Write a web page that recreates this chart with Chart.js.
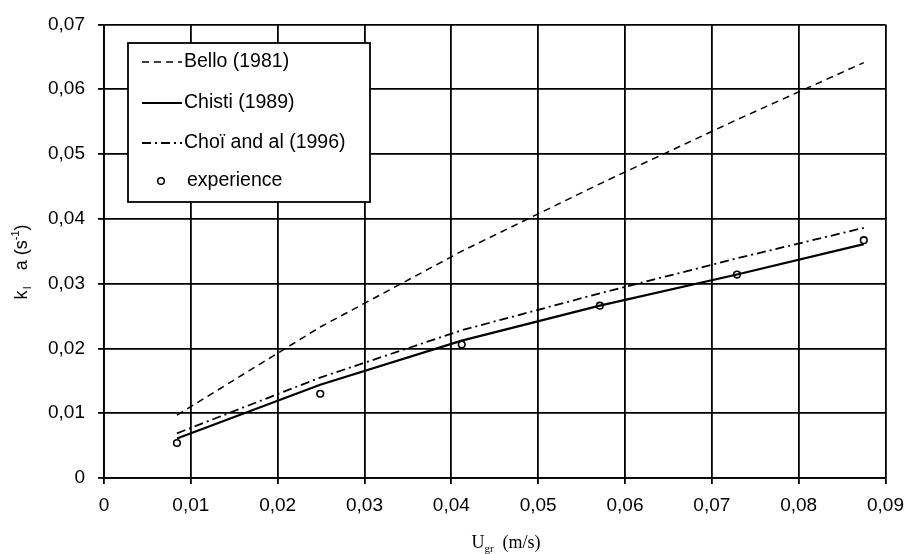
<!DOCTYPE html>
<html>
<head>
<meta charset="utf-8">
<script src="https://cdn.jsdelivr.net/npm/chart.js@4/dist/chart.umd.min.js"></script>
<style>
  html, body { margin: 0; padding: 0; background: #fff; }
  #wrap { width: 914px; height: 554px; }
</style>
</head>
<body>
<div id="wrap"><canvas id="c" width="914" height="554"></canvas></div>
<script>
// ---- data ----
const gasVelocity = [0.0084, 0.0249, 0.0412, 0.0571, 0.0729, 0.0875]; // U_gr (m/s)
const bello1981   = [0.0097, 0.0233, 0.0350, 0.0454, 0.0553, 0.0641];
const chisti1989  = [0.0061, 0.0144, 0.0212, 0.0266, 0.0314, 0.0361];
const choi1996    = [0.0069, 0.0155, 0.0228, 0.0285, 0.0339, 0.0386];
const experience  = [0.0054, 0.0130, 0.0206, 0.0266, 0.0314, 0.0367];
const seriesNames = ['Bello (1981)', 'Chisti (1989)', 'Choï and al (1996)', 'experience'];
const xTickValues = [0, 0.01, 0.02, 0.03, 0.04, 0.05, 0.06, 0.07, 0.08, 0.09];
const yTickValues = [0, 0.01, 0.02, 0.03, 0.04, 0.05, 0.06, 0.07];

const pts = ys => gasVelocity.map((x, i) => ({ x: x, y: ys[i] }));
const fmt = v => { const r = Math.round(v * 100) / 100; return r === 0 ? '0' : r.toFixed(2).replace('.', ','); };

const FONT = 'Liberation Sans, Arial, sans-serif';
const styles = [
  { dash: [7, 5], width: 1.5 },
  { dash: [], width: 2.2 },
  { dash: [9, 4, 2, 4], width: 1.8 }
];

const overlay = {
  id: 'overlay',
  afterDraw(chart) {
    const ctx = chart.ctx;
    ctx.save();
    // legend box
    const L = 128, T = 43, R = 370, B = 202;
    ctx.fillStyle = '#fff';
    ctx.fillRect(L, T, R - L, B - T);
    ctx.strokeStyle = '#000';
    ctx.lineWidth = 1.8;
    ctx.strokeRect(L, T, R - L, B - T);
    const rows = [62, 103, 143];
    ctx.font = '19.5px ' + FONT;
    ctx.fillStyle = '#000';
    ctx.textBaseline = 'middle';
    ctx.textAlign = 'left';
    for (let i = 0; i < 3; i++) {
      ctx.beginPath();
      ctx.setLineDash(styles[i].dash);
      ctx.lineWidth = styles[i].width;
      ctx.moveTo(142, rows[i]);
      ctx.lineTo(182, rows[i]);
      ctx.stroke();
      ctx.setLineDash([]);
      ctx.fillText(seriesNames[i], 184, rows[i]);
    }
    ctx.beginPath();
    ctx.lineWidth = 1.5;
    ctx.arc(161, 181, 3.3, 0, Math.PI * 2);
    ctx.fillStyle = '#fff';
    ctx.fill();
    ctx.stroke();
    ctx.fillStyle = '#000';
    ctx.fillText(seriesNames[3], 187, 181);

    // x axis title: U_gr (m/s)
    ctx.textBaseline = 'alphabetic';
    const serifBig = '18px Liberation Serif, Times New Roman, serif';
    const serifSmall = '11px Liberation Serif, Times New Roman, serif';
    ctx.font = serifBig; const wU = ctx.measureText('U').width;
    const wRest = ctx.measureText('  (m/s)').width;
    ctx.font = serifSmall; const wSub = ctx.measureText('gr').width;
    let x0 = 506 - (wU + wSub + wRest) / 2;
    const base = 548;
    ctx.font = serifBig; ctx.fillText('U', x0, base); x0 += wU;
    ctx.font = serifSmall; ctx.fillText('gr', x0, base + 4); x0 += wSub;
    ctx.font = serifBig; ctx.fillText('  (m/s)', x0, base);

    // y axis title: k_l a (s^-1)
    ctx.save();
    ctx.translate(27, 262);
    ctx.rotate(-Math.PI / 2);
    const big = '18px ' + FONT, small = '11px ' + FONT;
    const parts = [
      { t: 'k', f: big, dy: 0 },
      { t: 'l', f: small, dy: 4 },
      { t: '   a (s', f: big, dy: 0 },
      { t: '-1', f: small, dy: -8 },
      { t: ')', f: big, dy: 0 }
    ];
    let total = 0;
    parts.forEach(p => { ctx.font = p.f; p.w = ctx.measureText(p.t).width + (p.t === 'l' ? 3 : 0); total += p.w; });
    let px = -total / 2;
    parts.forEach(p => { ctx.font = p.f; ctx.fillText(p.t, px + (p.t === 'l' ? 1.5 : 0), p.dy); px += p.w; });
    ctx.restore();
    ctx.restore();
  }
};

new Chart(document.getElementById('c'), {
  type: 'scatter',
  data: {
    datasets: [
      { label: seriesNames[0], data: pts(bello1981), showLine: true, borderColor: '#000', borderWidth: styles[0].width, borderDash: styles[0].dash, pointRadius: 0, fill: false },
      { label: seriesNames[1], data: pts(chisti1989), showLine: true, borderColor: '#000', borderWidth: styles[1].width, borderDash: styles[1].dash, pointRadius: 0, fill: false },
      { label: seriesNames[2], data: pts(choi1996), showLine: true, borderColor: '#000', borderWidth: styles[2].width, borderDash: styles[2].dash, pointRadius: 0, fill: false },
      { label: seriesNames[3], data: pts(experience), showLine: false, pointRadius: 3.3, pointBorderWidth: 1.6, pointBorderColor: '#000', pointBackgroundColor: '#fff', pointStyle: 'circle' }
    ]
  },
  options: {
    responsive: false,
    animation: false,
    devicePixelRatio: 1,
    layout: { padding: { top: 17, right: 27, left: 0, bottom: 0 } },
    plugins: { legend: { display: false }, tooltip: { enabled: false }, title: { display: false } },
    scales: {
      x: {
        type: 'linear', min: 0, max: 0.09,
        afterBuildTicks: s => { s.ticks = xTickValues.map(v => ({ value: v })); },
        afterFit: s => { s.height = 76; },
        ticks: { callback: fmt, color: '#000', font: { family: FONT, size: 19 }, padding: 10, maxRotation: 0, autoSkip: false },
        grid: { color: '#000', lineWidth: 1.8, tickLength: 6, drawTicks: true },
        border: { color: '#000', width: 1.8 }
      },
      y: {
        type: 'linear', min: 0, max: 0.07,
        afterBuildTicks: s => { s.ticks = yTickValues.map(v => ({ value: v })); },
        afterFit: s => { s.width = 104; },
        ticks: { callback: fmt, color: '#000', font: { family: FONT, size: 19 }, padding: 13, autoSkip: false },
        grid: { color: '#000', lineWidth: 1.8, tickLength: 6, drawTicks: true },
        border: { color: '#000', width: 1.8 }
      }
    }
  },
  plugins: [overlay]
});
</script>
</body>
</html>
